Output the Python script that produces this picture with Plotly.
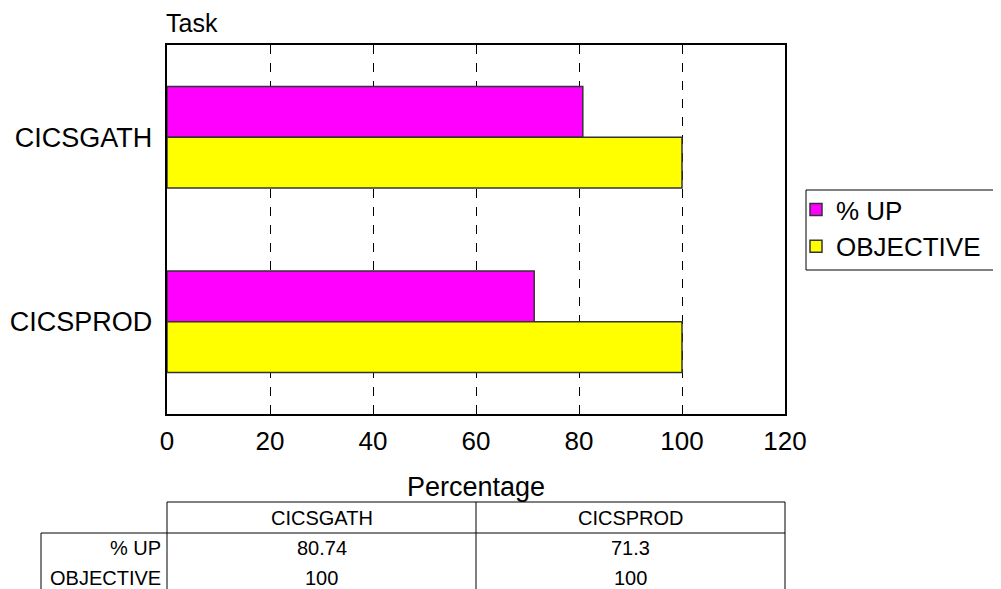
import plotly.graph_objects as go

categories = ["CICSGATH", "CICSPROD"]
series_names = ["% UP", "OBJECTIVE"]
pct_up = [80.74, 71.3]
objective = [100, 100]
table_values = [["80.74", "71.3"], ["100", "100"]]
x_ticks = [0, 20, 40, 60, 80, 100, 120]

# page offset of the plot div (body margin)
OFF = 8
W, H = 1001, 589
# target screen geometry of plot area
L, R, T, B = 167, 785, 45, 414

def px(x):
    return (x - L) / (R - L)

def py(y):
    return (B - y) / (B - T)

FONT = "Liberation Sans, Arial, sans-serif"

fig = go.Figure()
fig.add_trace(go.Bar(y=categories, x=pct_up, name=series_names[0], orientation="h",
                     marker=dict(color="#FF00FF", line=dict(color="#333333", width=1.5))))
fig.add_trace(go.Bar(y=categories, x=objective, name=series_names[1], orientation="h",
                     marker=dict(color="#FFFF00", line=dict(color="#333333", width=1.5))))

fig.update_layout(
    width=W, height=H,
    margin=dict(l=L - OFF, r=W - (R - OFF), t=T - OFF, b=H - (B - OFF), autoexpand=False),
    paper_bgcolor="white", plot_bgcolor="white",
    barmode="group", bargap=0.45, bargroupgap=0,
    font=dict(family=FONT, color="black", size=26),
    showlegend=True,
    legend=dict(x=px(796), y=py(186), xanchor="left", yanchor="top",
                borderwidth=0, bgcolor="rgba(0,0,0,0)",
                font=dict(size=26, family=FONT), traceorder="normal", itemwidth=30),
    xaxis=dict(range=[0, 120], tickvals=x_ticks, showgrid=True, gridcolor="black",
               griddash="dash", gridwidth=1, showline=True, linecolor="black", linewidth=1.5,
               mirror=True, ticks="", zeroline=False, tickfont=dict(size=26),
               ticklabelstandoff=3, automargin=False,
               title=dict(text="Percentage", font=dict(size=27), standoff=22)),
    yaxis=dict(autorange="reversed", showline=True, linecolor="black", linewidth=1.5,
               mirror=True, ticks="", showgrid=False, tickfont=dict(size=27), ticksuffix=" ",
               automargin=False),
)

fig.add_annotation(text="Task", xref="paper", yref="paper", x=px(164), y=py(23), xanchor="left",
                   yanchor="middle", showarrow=False, font=dict(size=25))

shapes = []
# legend frame
shapes.append(dict(type="rect", xref="paper", yref="paper", x0=px(806), x1=px(997),
                   y0=py(190), y1=py(270), line=dict(color="black", width=1)))

# Table below the chart
line = dict(color="black", width=1)
col_edges = [167, 476, 785]
top, head_bottom, bottom = 502, 533, 610
label_left = 41
shapes.append(dict(type="line", xref="paper", yref="paper", x0=px(col_edges[0]), x1=px(col_edges[-1]),
                   y0=py(top), y1=py(top), line=line))
shapes.append(dict(type="line", xref="paper", yref="paper", x0=px(label_left), x1=px(col_edges[-1]),
                   y0=py(head_bottom), y1=py(head_bottom), line=line))
for cx in col_edges:
    shapes.append(dict(type="line", xref="paper", yref="paper", x0=px(cx), x1=px(cx),
                       y0=py(top), y1=py(bottom), line=line))
shapes.append(dict(type="line", xref="paper", yref="paper", x0=px(label_left), x1=px(label_left),
                   y0=py(head_bottom), y1=py(bottom), line=line))
fig.update_layout(shapes=shapes)

row_y = [548, 578]
for i, cat in enumerate(categories):
    cxm = (col_edges[i] + col_edges[i + 1]) / 2
    fig.add_annotation(text=cat, xref="paper", yref="paper", x=px(cxm), y=py(518),
                       showarrow=False, font=dict(size=20), xanchor="center", yanchor="middle")
    for r in range(len(series_names)):
        fig.add_annotation(text=table_values[r][i], xref="paper", yref="paper", x=px(cxm), y=py(row_y[r]),
                           showarrow=False, font=dict(size=20), xanchor="center", yanchor="middle")
for r, name in enumerate(series_names):
    fig.add_annotation(text=name, xref="paper", yref="paper", x=px(163), y=py(row_y[r]),
                       showarrow=False, font=dict(size=20), xanchor="right", yanchor="middle")

fig.write_html("out.html")
